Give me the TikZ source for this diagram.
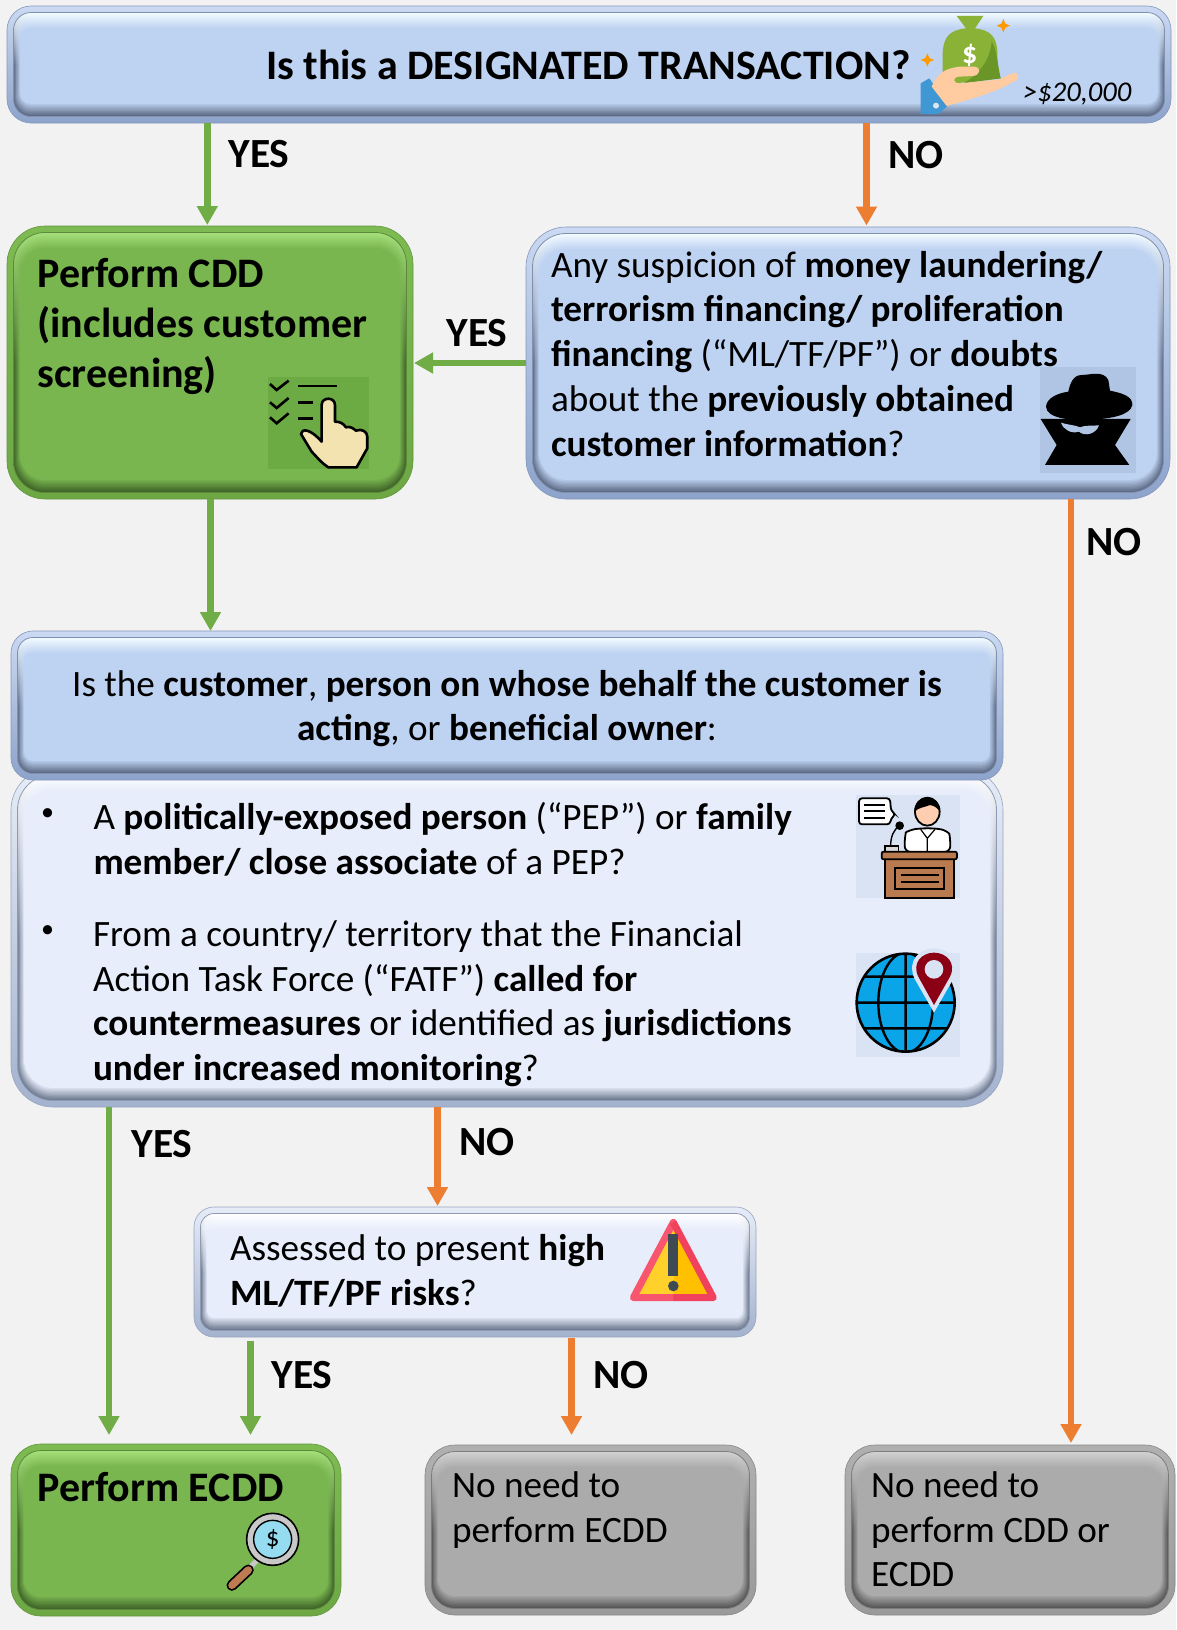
\documentclass[tikz,border=0pt]{standalone}
\usepackage{fontspec}
\setmainfont{Carlito}
\usetikzlibrary{arrows.meta,calc}
\definecolor{pgbg}{HTML}{F2F2F2}
\definecolor{bFill}{HTML}{BED2F2}\definecolor{bHi}{HTML}{F2FBFF}\definecolor{bDark}{HTML}{5C6A85}\definecolor{bRimT}{HTML}{CBD9F2}\definecolor{bRimB}{HTML}{8DA3CB}\definecolor{bLine}{HTML}{7F90B0}
\definecolor{lFill}{HTML}{E7EDFB}\definecolor{lHi}{HTML}{FFFFFF}\definecolor{lDark}{HTML}{6E7A90}\definecolor{lRimT}{HTML}{E6ECF8}\definecolor{lRimB}{HTML}{A3B2CE}\definecolor{lLine}{HTML}{8F9BB3}
\definecolor{gFill}{HTML}{7AB650}\definecolor{gHi}{HTML}{A6E07C}\definecolor{gDark}{HTML}{3F6428}\definecolor{gRimT}{HTML}{7DBB52}\definecolor{gRimB}{HTML}{6DA845}\definecolor{gLine}{HTML}{5A8A3A}
\definecolor{yFill}{HTML}{ABABAB}\definecolor{yHi}{HTML}{D2D2D2}\definecolor{yDark}{HTML}{565656}\definecolor{yRimT}{HTML}{B0B0B0}\definecolor{yRimB}{HTML}{9A9A9A}\definecolor{yLine}{HTML}{7C7C7C}
\definecolor{arG}{HTML}{70AD47}\definecolor{arO}{HTML}{ED7D31}
\tikzset{
  txt/.style={inner sep=0pt,outer sep=0pt,anchor=north west,align=left,text=black,font=\fontsize{37.2}{44.7}\selectfont},
  big/.style={txt,font=\fontsize{42}{50}\selectfont},
  lab/.style={inner sep=0pt,outer sep=0pt,text=black,font=\fontsize{41.5}{44}\selectfont\bfseries},
  dot/.style={inner sep=0pt,outer sep=0pt,text=black,font=\fontsize{26}{26}\selectfont},
  garrow/.style={draw=arG,line width=6.5pt,-{Triangle[width=20pt,length=19pt]}},
  oarrow/.style={draw=arO,line width=6.5pt,-{Triangle[width=20pt,length=19pt]}},
}
% name, x1, y1, x2, y2, radius, palette
\newcommand{\bevelbox}[7]{%
  \pgfmathsetmacro{\bw}{#4-#2}\pgfmathsetmacro{\bh}{#5-#3}%
  \pgfmathsetmacro{\bcx}{(#2+#4)/2}\pgfmathsetmacro{\bcy}{(#3+#5)/2}%
  \node[inner sep=0pt,outer sep=0pt,rounded corners=#6pt,minimum width=\bw pt,minimum height=\bh pt,
        top color=#7RimT,bottom color=#7RimB,draw=#7Line!60!#7RimB,line width=.6pt] (#1) at (\bcx,\bcy) {};%
  \foreach \s in {0,...,9}{%
    \pgfmathsetmacro{\ix}{6.5+\s*0.75}%
    \pgfmathsetmacro{\it}{6.5+\s*1.7}%
    \pgfmathsetmacro{\ib}{6.5+\s*1.4}%
    \pgfmathsetmacro{\rr}{max(#6-\ix,2)}%
    \pgfmathtruncatemacro{\pp}{\s*100/9}%
    \path[rounded corners=\rr pt,top color=#7Fill!\pp!#7Hi,bottom color=#7Fill!\pp!#7Dark,middle color=#7Fill!\pp!#7Dark]
      (#2+\ix,#3+\it) rectangle (#4-\ix,#5-\ib);%
  }%
  \draw[#7Line,line width=.8pt,rounded corners=#6pt-6.5pt] (#2+6.5,#3+6.5) rectangle (#4-6.5,#5-6.5);%
}
\begin{document}
\begin{tikzpicture}[x=1pt,y=-1pt]
\useasboundingbox (0,0) rectangle (1176,1630);
\fill[pgbg] (0,0) rectangle (1176,1630);

% boxes
\bevelbox{top}{7}{6}{1171}{123}{24}{b}
\bevelbox{cdd}{7}{226}{413}{499}{38}{g}
\bevelbox{susp}{526}{227}{1170}{499}{40}{b}
\bevelbox{body}{11}{768}{1003}{1107}{42}{l}
\bevelbox{head}{11}{631}{1003}{780}{22}{b}
\bevelbox{risk}{194}{1207}{756}{1337}{20}{l}
\bevelbox{ecdd}{11}{1444}{341}{1616}{30}{g}
\bevelbox{noa}{425}{1445}{756}{1615}{30}{y}
\bevelbox{nob}{845}{1445}{1175}{1615}{30}{y}

% connector columns
\coordinate (xa) at (207.3,0);
\coordinate (xb) at (866.5,0);
\coordinate (xc) at (210.5,0);
\coordinate (xd) at (1071,0);
\coordinate (xe) at (109,0);
\coordinate (xf) at (437.5,0);
\coordinate (xg) at (250.5,0);
\coordinate (xh) at (571.5,0);
\coordinate (yh) at (0,363);

\draw[garrow,shorten >=1pt] (top.south -| xa) -- (cdd.north -| xa);
\draw[oarrow,shorten >=1.5pt] (top.south -| xb) -- (susp.north -| xb);
\draw[garrow,shorten >=1pt] (susp.west |- yh) -- (cdd.east |- yh);
\draw[garrow] (cdd.south -| xc) -- (head.north -| xc);
\draw[oarrow,shorten >=2pt] (susp.south -| xd) -- (nob.north -| xd);
\draw[garrow,shorten >=9pt] (body.south -| xe) -- (ecdd.north -| xe);
\draw[oarrow,shorten >=1pt] (body.south -| xf) -- (risk.north -| xf);
\draw[garrow,shorten <=4pt,shorten >=9pt] (risk.south -| xg) -- (ecdd.north -| xg);
\draw[oarrow,shorten <=1pt,shorten >=10pt] (risk.south -| xh) -- (noa.north -| xh);

% labels
\node[lab] (l1) at (259,154) {YES};
\node[lab] (l2) at (916,155) {NO};
\node[lab] (l3) at (477,333) {YES};
\node[lab] (l4) at (1114,542) {NO};
\node[lab] (l5) at (162,1144) {YES};
\node[lab] (l6) at (487,1142) {NO};
\node[lab] (l7) at (302,1375) {YES};
\node[lab] (l8) at (621,1375) {NO};

% texts
\node[big,anchor=base west] (t0) at (266,79) {\textbf{Is this a DESIGNATED TRANSACTION?}};
\node[txt,anchor=base west,font=\fontsize{28.6}{34}\selectfont\itshape] (t0b) at (1023,101) {>\$20,000};
\node[big] (t1) at (37.5,252) {\strut\textbf{Perform CDD}\\\textbf{(includes customer}\\\textbf{screening)}};
\node[txt] (t2) at (551,246) {\strut Any suspicion of \textbf{money laundering/}\\\textbf{terrorism financing/ proliferation}\\\textbf{financing} (“ML/TF/PF”) or \textbf{doubts}\\about the \textbf{previously obtained}\\\textbf{customer information}?};
\node[txt,anchor=north,align=center] (t3) at (507,665) {\strut Is the \textbf{customer}, \textbf{person on whose behalf the customer is}\\\textbf{acting}, or \textbf{beneficial owner}:};
\node[dot] (b1) at (47.5,815) {•};
\node[txt] (t4) at (93.5,798) {\strut A \textbf{politically-exposed person} (“PEP”) or \textbf{family}\\\textbf{member/ close associate} of a PEP?};
\node[dot] (b2) at (47.5,932) {•};
\node[txt] (t5) at (93,915) {\strut From a country/ territory that the Financial\\Action Task Force (“FATF”) \textbf{called for}\\\textbf{countermeasures} or identified as \textbf{jurisdictions}\\\textbf{under increased monitoring}?};
\node[txt] (t6) at (230,1229) {\strut Assessed to present \textbf{high}\\\textbf{ML/TF/PF risks}?};
\node[big] (t7) at (37.5,1466) {\strut\textbf{Perform ECDD}};
\node[txt] (t8) at (452,1466) {\strut No need to\\perform ECDD};
\node[txt] (t9) at (871,1466) {\strut No need to\\perform CDD or\\ECDD};

% ---- money bag icon
\begin{scope}[shift={(880,0)},x=.3333pt,y=-.3333pt]
\fill[orange!80!yellow] (370,57) -- (376,71) -- (390,77) -- (376,83) -- (370,97) -- (364,83) -- (350,77) -- (364,71) -- cycle;
\fill[orange!80!yellow] (142,160) -- (148,174) -- (162,180) -- (148,186) -- (142,200) -- (136,186) -- (122,180) -- (136,174) -- cycle;
\fill[fill={rgb,255:red,138;green,178;blue,55}] (230,48) -- (310,48) -- (285,85) .. controls (330,90) and (352,110) .. (352,160) .. controls (352,190) and (355,215) .. (362,235) -- (225,250) -- (188,215) -- (188,160) .. controls (190,110) and (210,90) .. (258,85) -- cycle;
\fill[fill={rgb,255:red,106;green,150;blue,40}] (335,125) .. controls (350,145) and (352,190) .. (362,235) -- (250,250) .. controls (300,220) and (330,180) .. (335,125) -- cycle;
\node[inner sep=0pt,text=white,font=\fontsize{30}{30}\selectfont\bfseries] (dollar) at (269,165) {\$};
\fill[fill={rgb,255:red,63;green,151;blue,211}] (122,250) -- (148,235) -- (203,318) -- (175,342) -- (122,342) -- cycle;
\fill[fill={rgb,255:red,255;green,203;blue,160}] (155,260) .. controls (170,225) and (190,205) .. (240,200) -- (285,200) .. controls (305,205) and (300,225) .. (280,228) -- (235,230) .. controls (215,235) and (220,250) .. (240,250) -- (360,238) -- (400,218) .. controls (420,218) and (420,240) .. (400,245) .. controls (340,280) and (280,295) .. (200,318) -- cycle;
\fill[fill={rgb,255:red,220;green,230;blue,240}] (168,317) circle (9);
\end{scope}

% ---- checklist hand icon
\begin{scope}[shift={(0,220)},x=.3333pt,y=-.3333pt]
\fill[fill={rgb,255:red,108;green,170;blue,68}] (803,472) rectangle (1107,747);
\draw[black,line width=2.6pt] (810,492) -- (830,510) -- (866,482);
\draw[black,line width=2.6pt] (810,547) -- (830,564) -- (866,534);
\draw[black,line width=2.6pt] (810,592) -- (830,610) -- (866,580);
\draw[black,line width=2.4pt] (895,498) -- (1010,498);
\draw[black,line width=2.4pt] (895,547) -- (940,547);
\draw[black,line width=2.4pt] (895,595) -- (940,595);
\filldraw[fill={rgb,255:red,243;green,227;blue,176},draw=black,line width=2.6pt,line join=round] (965,665) -- (965,555) .. controls (965,530) and (1005,530) .. (1005,555) -- (1005,605) .. controls (1020,605) and (1030,610) .. (1038,622) .. controls (1050,618) and (1060,625) .. (1068,632) .. controls (1085,625) and (1102,635) .. (1102,650) -- (1102,685) -- (1070,742) -- (985,742) .. controls (960,725) and (950,710) .. (935,695) -- (903,642) .. controls (905,625) and (930,625) .. (965,665) -- cycle;
\end{scope}

% ---- spy icon
\begin{scope}[shift={(1000,350)},x=.3333pt,y=-.3333pt]
\fill[fill={rgb,255:red,176;green,196;blue,227}] (120,52) rectangle (408,370);
\fill[black] (122,207) -- (190,207) -- (350,207) -- (392,207) -- (345,285) -- (388,345) -- (135,345) -- (170,285) -- cycle;
\fill[black] (138,170) .. controls (140,145) and (170,130) .. (205,125) .. controls (210,100) and (220,75) .. (245,75) .. controls (270,75) and (310,60) .. (325,90) -- (330,122) .. controls (370,130) and (398,140) .. (397,165) .. controls (390,195) and (340,205) .. (270,210) .. controls (210,212) and (140,205) .. (138,170) -- cycle;
\fill[fill={rgb,255:red,176;green,196;blue,227}] (183,218) .. controls (205,225) and (225,225) .. (240,232) .. controls (255,225) and (275,228) .. (297,226) .. controls (290,250) and (255,262) .. (237,245) .. controls (215,252) and (190,240) .. (183,218) -- cycle;
\end{scope}

% ---- speaker icon and globe
\begin{scope}[shift={(830,770)},x=.3333pt,y=-.3333pt]
\fill[fill={rgb,255:red,218;green,227;blue,243}] (78,75) rectangle (390,383);
\filldraw[fill=white,draw=black,line width=1.8pt,rounded corners=3pt] (87,85) -- (180,85) -- (183,122) -- (197,133) -- (183,145) -- (180,163) -- (87,163) -- cycle;
\draw[black,line width=1.8pt] (102,105) -- (165,105) (102,124) -- (165,124) (102,143) -- (165,143);
\draw[black,line width=1.4pt] (210,165) .. controls (190,180) and (182,200) .. (182,228);
\fill[black] (209,167) circle (13);
\filldraw[fill=white!85!black,draw=black,line width=1.2pt] (165,228) rectangle (205,245);
\filldraw[fill=white,draw=black,line width=1.8pt,rounded corners=6pt] (224,246) -- (224,205) .. controls (228,185) and (250,178) .. (272,175) -- (315,175) .. controls (345,180) and (358,190) .. (361,210) -- (361,246) -- cycle;
\draw[black,line width=1.2pt] (272,178) -- (292,205) -- (315,178) (292,205) -- (292,245);
\filldraw[fill={rgb,255:red,255;green,205;blue,176},draw=black,line width=1.8pt] (292,125) ellipse (37 and 42);
\fill[black] (254,125) .. controls (252,100) and (270,82) .. (292,82) .. controls (315,82) and (332,100) .. (330,128) .. controls (325,115) and (315,108) .. (300,105) .. controls (285,112) and (265,112) .. (254,125) -- cycle;
\filldraw[fill={rgb,255:red,185;green,122;blue,80},draw=black,line width=1.8pt] (164,262) rectangle (372,383);
\filldraw[fill={rgb,255:red,185;green,122;blue,80},draw=black,line width=1.8pt,rounded corners=2pt] (155,245) rectangle (381,268);
\filldraw[fill={rgb,255:red,185;green,122;blue,80},draw=black,line width=1.8pt] (195,295) rectangle (343,357);
\draw[black,line width=1.6pt] (212,315) -- (327,315) (212,336) -- (327,336);
% globe
\fill[fill={rgb,255:red,218;green,227;blue,243}] (78,548) rectangle (390,862);
\begin{scope}
\clip (227,698) circle (148);
\fill[fill={rgb,255:red,10;green,165;blue,232}] (227,698) circle (148);
\draw[black,line width=2.4pt] (227,540) -- (227,860) (70,698) -- (390,698) (70,620) -- (390,620) (70,775) -- (390,775) (227,698) ellipse (82 and 150);
\end{scope}
\draw[black,line width=2.6pt] (227,698) circle (147);
\fill[fill={rgb,255:red,218;green,227;blue,243}] (312,728) -- (253,625) .. controls (230,570) and (270,535) .. (312,535) .. controls (355,535) and (395,570) .. (371,625) -- cycle;
\fill[fill={rgb,255:red,139;green,0;blue,20}] (312,705) -- (265,620) .. controls (245,580) and (275,548) .. (312,548) .. controls (350,548) and (380,580) .. (360,620) -- cycle;
\fill[fill={rgb,255:red,218;green,227;blue,243}] (312,598) circle (28);
\end{scope}

% ---- warning icon
\begin{scope}[shift={(590,1190)},x=.3333pt,y=-.3333pt]
\fill[fill={rgb,255:red,255;green,209;blue,42}] (250,97) -- (130,323) -- (250,323) -- cycle;
\fill[fill={rgb,255:red,255;green,192;blue,0}] (250,97) -- (370,323) -- (250,323) -- cycle;
\draw[line width=7pt,line join=round,line cap=round,draw={rgb,255:red,247;green,86;blue,110}] (250,323) -- (130,323) -- (250,97);
\draw[line width=7pt,line join=round,line cap=butt,draw={rgb,255:red,240;green,66;blue,92}] (250,97) -- (370,323) -- (250,323);
\fill[fill={rgb,255:red,62;green,75;blue,85}] (235,133) rectangle (265,258);
\fill[fill={rgb,255:red,62;green,75;blue,85}] (250,288) circle (16);
\end{scope}

% ---- magnifier icon
\begin{scope}[shift={(0,1430)},x=.3333pt,y=-.3333pt]
\draw[line width=5pt,draw={rgb,255:red,200;green,200;blue,200}] (772,390) -- (745,418);
\draw[black,line width=11pt,line cap=round] (745,420) -- (696,466);
\draw[line width=7.5pt,line cap=round,draw={rgb,255:red,190;green,122;blue,82}] (745,420) -- (696,466);
\filldraw[fill={rgb,255:red,200;green,200;blue,200},draw=black,line width=1.6pt] (818,328) circle (78);
\filldraw[fill={rgb,255:red,150;green,220;blue,240},draw=black,line width=1.4pt] (818,328) circle (57);
\node[inner sep=0pt,text=black,font=\fontsize{27}{27}\selectfont] (lens) at (818,328) {\$};
\end{scope}
\end{tikzpicture}
\end{document}
